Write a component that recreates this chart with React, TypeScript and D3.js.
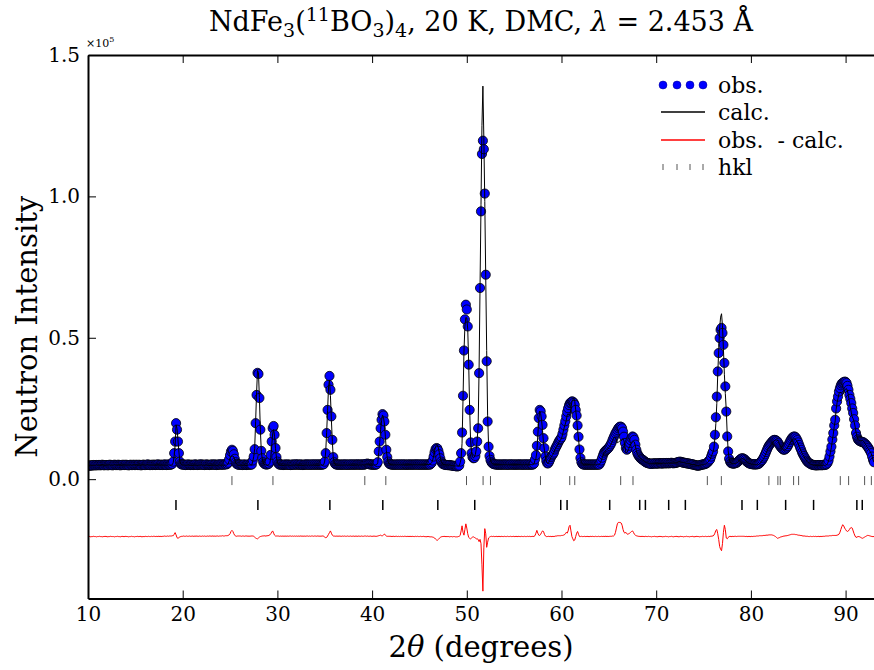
import { useEffect, useRef } from "react";
import * as d3 from "d3";

// DMC scan: 2theta grid starts at 10 deg, 0.1 deg per step
const firstAngle = 10.0;
const angleStep = 0.1;

// observed counts (x100), one row per degree
const obs = [
  47, 48, 48, 49, 48, 49, 50, 49, 49, 50, // 10
  49, 50, 50, 49, 50, 51, 50, 49, 50, 50,
  50, 49, 50, 51, 50, 50, 49, 50, 51, 50,
  50, 50, 51, 50, 49, 50, 50, 51, 50, 50,
  51, 50, 50, 49, 50, 51, 50, 50, 51, 50,
  50, 51, 50, 50, 51, 50, 49, 50, 51, 51, // 15
  50, 50, 51, 52, 51, 50, 50, 51, 50, 51,
  51, 50, 51, 51, 52, 51, 50, 51, 51, 50,
  51, 52, 51, 50, 51, 52, 51, 51, 52, 54,
  62, 92, 133, 198, 175, 133, 92, 62, 54, 52,
  51, 52, 51, 50, 51, 51, 52, 51, 50, 51, // 20
  51, 50, 51, 52, 51, 51, 50, 51, 52, 51,
  52, 51, 51, 50, 51, 52, 51, 51, 50, 51,
  51, 52, 51, 51, 52, 51, 50, 51, 52, 52,
  51, 52, 52, 51, 52, 53, 52, 54, 58, 70,
  85, 98, 104, 100, 88, 72, 60, 54, 52, 51, // 25
  51, 52, 51, 50, 51, 52, 51, 50, 51, 52,
  51, 52, 51, 52, 66, 80, 106, 198, 298, 376,
  372, 287, 175, 100, 74, 60, 55, 53, 52, 52,
  53, 55, 62, 86, 133, 180, 188, 157, 110, 78,
  62, 55, 52, 51, 52, 51, 50, 51, 52, 51, // 30
  51, 52, 51, 51, 50, 51, 52, 51, 51, 52,
  52, 51, 52, 51, 51, 52, 51, 50, 51, 52,
  51, 52, 51, 52, 51, 51, 52, 51, 52, 51,
  52, 51, 52, 51, 52, 51, 52, 51, 52, 53,
  62, 92, 163, 245, 334, 365, 316, 222, 139, 78, // 35
  60, 54, 52, 51, 52, 51, 52, 51, 51, 52,
  51, 52, 51, 52, 51, 51, 52, 51, 52, 51,
  52, 51, 52, 51, 52, 52, 51, 52, 51, 52,
  52, 51, 52, 53, 54, 55, 54, 53, 52, 52,
  51, 52, 51, 52, 51, 53, 60, 98, 133, 180, // 40
  210, 230, 225, 204, 157, 104, 78, 62, 55, 53,
  52, 51, 52, 51, 51, 52, 51, 52, 51, 52,
  51, 52, 51, 52, 51, 52, 51, 51, 52, 51,
  52, 51, 52, 51, 52, 51, 52, 52, 51, 52,
  51, 52, 51, 52, 51, 52, 51, 52, 51, 52, // 45
  52, 51, 54, 58, 66, 80, 95, 106, 110, 108,
  100, 88, 74, 62, 56, 53, 52, 51, 50, 50,
  50, 49, 50, 49, 48, 48, 47, 47, 46, 46,
  45, 46, 48, 62, 92, 165, 295, 455, 565, 617,
  600, 540, 405, 245, 130, 92, 78, 74, 75, 82, // 50
  98, 133, 180, 375, 676, 947, 1150, 1197, 1167, 1010,
  723, 417, 204, 115, 82, 68, 60, 56, 54, 53,
  52, 52, 51, 52, 51, 52, 51, 52, 51, 52,
  52, 51, 52, 51, 52, 51, 52, 52, 51, 52,
  51, 52, 51, 52, 51, 52, 52, 51, 52, 51, // 55
  52, 51, 52, 52, 51, 52, 51, 52, 52, 51,
  52, 55, 70, 85, 118, 168, 216, 245, 240, 222,
  192, 145, 110, 80, 64, 56, 56, 62, 70, 78,
  84, 88, 94, 105, 112, 118, 125, 132, 138, 142,
  148, 160, 175, 190, 205, 222, 238, 251, 262, 269, // 60
  271, 275, 274, 270, 263, 245, 225, 190, 150, 105,
  75, 60, 54, 52, 51, 52, 51, 52, 51, 52,
  51, 52, 51, 52, 51, 52, 51, 52, 52, 51,
  52, 58, 66, 76, 86, 94, 99, 102, 105, 108,
  112, 117, 123, 130, 139, 147, 154, 162, 168, 174, // 65
  180, 184, 186, 185, 180, 168, 150, 128, 110, 104,
  108, 118, 128, 138, 146, 151, 148, 139, 122, 104,
  92, 85, 80, 76, 72, 70, 68, 65, 62, 60,
  58, 57, 56, 55, 55, 54, 55, 56, 55, 56,
  55, 56, 55, 56, 57, 56, 55, 56, 57, 56, // 70
  56, 57, 56, 57, 56, 57, 58, 57, 56, 57,
  57, 58, 59, 60, 61, 62, 61, 60, 59, 58,
  58, 57, 56, 56, 55, 55, 54, 53, 52, 52,
  51, 50, 49, 48, 48, 48, 49, 50, 51, 52,
  52, 53, 54, 56, 58, 62, 66, 70, 80, 90, // 75
  98, 115, 157, 219, 292, 381, 446, 499, 528, 535,
  517, 475, 411, 328, 239, 151, 98, 72, 62, 57,
  56, 55, 55, 56, 57, 58, 61, 64, 68, 71,
  73, 74, 73, 71, 68, 64, 61, 58, 56, 55,
  54, 53, 53, 52, 52, 53, 52, 53, 54, 56, // 80
  60, 64, 68, 74, 80, 88, 96, 104, 112, 118,
  123, 127, 131, 135, 138, 139, 138, 136, 133, 128,
  122, 116, 112, 108, 105, 104, 105, 108, 112, 117,
  124, 131, 138, 143, 148, 150, 151, 149, 144, 138,
  130, 121, 112, 104, 95, 88, 82, 76, 70, 65, // 85
  61, 58, 56, 54, 52, 51, 50, 50, 49, 49,
  49, 50, 49, 50, 50, 49, 50, 51, 50, 51,
  53, 58, 66, 80, 98, 115, 140, 163, 190, 210,
  250, 275, 292, 310, 322, 332, 338, 341, 343, 345,
  344, 340, 330, 316, 298, 284, 269, 250, 234, 212, // 90
  190, 163, 150, 141, 137, 135, 133, 132, 131, 130,
  127, 124, 120, 116, 111, 105, 99, 92, 80, 68,
  60,
];

// obs - calc (x100)
const resid = [
  0, 1, 0, -1, 0, 0, 1, 0, 0, -1, // 10
  0, 0, 1, 0, 0, -1, 0, 0, 1, 0,
  0, -1, 0, 0, 1, 0, 0, 0, -1, 0,
  0, 1, 0, 0, -1, 0, 1, 0, 0, 0,
  1, 0, 0, -1, 0, 0, 1, 0, 0, -1,
  0, 0, 1, 0, 0, 1, 0, -1, 0, 0, // 15
  0, 1, 0, 0, 1, 0, 0, 1, 0, 1,
  1, 0, 1, 0, 1, 1, 0, 1, 0, 1,
  1, 2, 1, 1, 2, 1, 2, 2, 2, 3,
  3, 8, 14, 6, -4, -6, -4, -1, 0, 1,
  1, 2, 1, 1, 2, 1, 1, 2, 1, 1, // 20
  2, 1, 1, 2, 1, 2, 1, 1, 2, 1,
  1, 2, 1, 2, 1, 1, 2, 1, 2, 2,
  1, 2, 2, 1, 2, 1, 2, 2, 1, 2,
  2, 2, 3, 2, 2, 3, 3, 3, 4, 6,
  10, 18, 22, 18, 10, 4, 2, 1, 2, 2, // 25
  2, 2, 1, 2, 2, 1, 2, 2, 2, 1,
  2, 1, 2, 2, 2, 1, -2, -5, -7, -8,
  -5, -2, 0, 1, 2, 2, 3, 2, 2, 3,
  3, 4, 6, 10, 16, 20, 12, 5, 2, 2,
  2, 2, 1, 2, 1, 2, 1, 2, 1, 2, // 30
  1, 2, 1, 2, 2, 1, 2, 1, 2, 1,
  2, 1, 2, 1, 2, 2, 1, 2, 1, 2,
  1, 2, 2, 1, 2, 1, 2, 2, 1, 2,
  2, 1, 2, 2, 1, 2, 1, 2, 2, 1,
  -2, -4, -3, 2, 8, 14, 20, 12, 5, 2, // 35
  2, 1, 2, 1, 2, 1, 2, 1, 1, 2,
  1, 2, 1, 1, 2, 1, 1, 2, 1, 1,
  2, 1, 1, 2, 1, 1, 2, 1, 1, 2,
  1, 1, 2, 2, 1, 2, 1, 1, 2, 1,
  1, 1, 2, 1, 1, 1, 2, 3, 4, 5, // 40
  3, 3, 6, 9, 5, 2, 1, 1, 1, 1,
  1, 0, 1, 1, 0, 1, 1, 0, 1, 0,
  1, 0, 1, 0, 1, 1, 0, 1, 0, 1,
  0, 1, 0, 1, 0, 0, 1, 0, 1, 0,
  0, 1, 0, 0, 1, 0, 0, -1, 0, 0, // 45
  0, -1, -1, -1, -2, -3, -5, -9, -12, -13,
  -10, -6, -3, -1, 0, 0, 1, 0, 0, 0,
  0, 0, -1, 0, 0, -1, 0, 0, -1, -1,
  -1, 0, 1, 4, 20, 38, 15, 5, 25, 45,
  30, 10, -3, -6, -8, -5, -2, -1, -3, -5, // 50
  -8, -8, -10, -18, -10, -25, -100, -193, -40, 28,
  10, -38, -20, -5, -2, 0, 1, 0, 1, 0,
  0, 1, 0, 0, 1, 0, 0, 1, 0, 0,
  1, 0, 0, 1, 0, 0, 1, 0, 0, 1,
  0, 0, 1, 0, 0, 1, 0, 0, 1, 0, // 55
  0, 1, 0, 0, 1, 0, 1, 0, 0, 1,
  0, 1, 3, 12, 22, 12, 5, 4, 8, 15,
  20, 18, 8, 2, 0, 0, 1, 0, 1, 0,
  0, 1, 0, 1, 2, 2, 3, 3, 3, 3,
  4, 4, 5, 6, 10, 15, 12, 20, 35, 40, // 60
  20, 0, -8, -15, -12, 0, 12, 18, 8, 0,
  0, 1, 0, 0, 1, 0, 0, 1, 0, 0,
  0, 1, 0, 1, 0, 0, 1, 0, 0, 1,
  0, 0, 1, 0, 1, 0, 1, 1, 0, 1,
  0, 1, 1, 1, 2, 2, 5, 15, 30, 45, // 65
  50, 50, 50, 48, 40, 25, 15, 12, 15, 10,
  8, 10, 12, 15, 18, 20, 15, 8, 5, 3,
  2, 1, 1, 0, 1, 0, 1, 0, 0, 1,
  0, 0, 1, 0, 0, -1, 0, 0, 1, 0,
  0, -1, 0, 0, 1, 0, 0, -1, 0, 0, // 70
  1, 0, 0, -1, 0, 0, 1, 0, -1, 0,
  0, 1, 0, 0, -1, 0, 1, 0, 0, -1,
  0, 0, 1, 0, 0, -1, 0, 0, 1, 0,
  -1, 0, 0, 1, 0, 0, -1, 0, 0, 1,
  0, 0, 1, 0, 0, 1, 0, 1, 1, 2, // 75
  2, 5, 12, 22, 25, 10, -10, -35, -45, -50,
  -25, 15, 40, 25, -5, -8, -3, 0, 1, 0,
  0, 1, 0, 1, 1, 0, 1, 1, 1, 1,
  1, 1, 1, 1, 0, 1, 0, 0, 1, 0,
  0, 1, 0, 1, 1, 1, 2, 2, 2, 3, // 80
  3, 3, 3, 4, 4, 4, 5, 5, 5, 6,
  6, 6, 6, 5, 4, 2, 0, -3, -6, -5,
  -4, -2, -1, 0, 1, 2, 2, 3, 3, 4,
  5, 6, 7, 8, 8, 8, 8, 7, 7, 6,
  5, 5, 4, 4, 3, 2, 2, 2, 1, 1, // 85
  1, 0, 0, 1, 0, 0, 1, 0, 1, 0,
  0, 1, 0, 0, 1, 0, 1, 1, 1, 2,
  2, 2, 2, 3, 3, 3, 4, 4, 4, 4,
  4, 5, 6, 8, 15, 25, 35, 42, 38, 30,
  25, 20, 18, 20, 25, 30, 32, 30, 20, 10, // 90
  2, -3, -2, 0, 0, -1, -3, -5, -6, -4,
  -2, 0, 2, 4, 4, 3, 2, 1, 0, 0,
  0,
];

// reflection positions (2theta)
const nuclearHkl = [
  25.2, 29.53, 39.23, 41.45, 49.97, 51.72, 52.5, 57.78, 60.87, 61.4, 66.25,
  67.55, 75.4, 76.88, 81.9, 82.85, 83.1, 84.51, 85.04, 89.44, 90.32, 92.01,
  92.72,
];
const magneticHkl = [
  19.29, 27.94, 35.54, 41.13, 46.94, 50.84, 59.92, 60.59, 65.09, 68.26, 68.86,
  71.32, 73.08, 79.06, 80.68, 83.67, 86.62, 91.19, 91.76,
];

const xTicks = [10, 20, 30, 40, 50, 60, 70, 80, 90];
const yTicks = [0, 50000, 100000, 150000];

const nuclearRow = -500;
const magneticRow = -9100;
const diffOffset = -20300;

const legendLabels = ["obs.", "calc.", "obs.  - calc.", "hkl"];

export default function App() {
  const svgRef = useRef<SVGSVGElement | null>(null);

  useEffect(() => {
    document.body.style.margin = "0";
    const width = 874;
    const height = 670;
    const margin = { top: 55, right: 0, bottom: 71.5, left: 88 };
    const font = '"DejaVu Serif", "Liberation Serif", "Times New Roman", serif';

    const n = Math.min(obs.length, resid.length);
    const data = d3.range(n).map((i) => ({
      tth: firstAngle + i * angleStep,
      obs: obs[i] * 100,
      calc: (obs[i] - resid[i]) * 100,
      diff: resid[i] * 100 + diffOffset,
    }));

    const x = d3
      .scaleLinear()
      .domain([10, 93])
      .range([margin.left, width - margin.right]);
    const y = d3
      .scaleLinear()
      .domain([-42200, 150000])
      .range([height - margin.bottom, margin.top]);

    const svg = d3.select(svgRef.current);
    svg.selectAll("*").remove();
    svg.attr("width", width).attr("height", height).style("font-family", font);

    svg
      .append("defs")
      .append("clipPath")
      .attr("id", "plot-clip")
      .append("rect")
      .attr("x", margin.left)
      .attr("y", margin.top)
      .attr("width", width - margin.left - margin.right)
      .attr("height", height - margin.top - margin.bottom);

    const plot = svg.append("g").attr("clip-path", "url(#plot-clip)");

    // observed points
    plot
      .append("g")
      .selectAll("circle")
      .data(data)
      .join("circle")
      .attr("cx", (d) => x(d.tth))
      .attr("cy", (d) => y(d.obs))
      .attr("r", 4.6)
      .attr("fill", "#0000ff")
      .attr("stroke", "#000")
      .attr("stroke-width", 0.8);

    // calculated profile
    const calcLine = d3
      .line<(typeof data)[number]>()
      .x((d) => x(d.tth))
      .y((d) => y(d.calc));
    plot
      .append("path")
      .datum(data)
      .attr("d", calcLine)
      .attr("fill", "none")
      .attr("stroke", "#000")
      .attr("stroke-width", 1);

    // difference curve
    const diffLine = d3
      .line<(typeof data)[number]>()
      .x((d) => x(d.tth))
      .y((d) => y(d.diff));
    plot
      .append("path")
      .datum(data)
      .attr("d", diffLine)
      .attr("fill", "none")
      .attr("stroke", "#ff0000")
      .attr("stroke-width", 1);

    // reflection markers
    plot
      .append("g")
      .selectAll("line")
      .data(nuclearHkl)
      .join("line")
      .attr("x1", (d) => x(d))
      .attr("x2", (d) => x(d))
      .attr("y1", y(nuclearRow) - 4.5)
      .attr("y2", y(nuclearRow) + 4.5)
      .attr("stroke", "#555")
      .attr("stroke-width", 1);
    plot
      .append("g")
      .selectAll("line")
      .data(magneticHkl)
      .join("line")
      .attr("x1", (d) => x(d))
      .attr("x2", (d) => x(d))
      .attr("y1", y(magneticRow) - 5)
      .attr("y2", y(magneticRow) + 5)
      .attr("stroke", "#000")
      .attr("stroke-width", 1.5);

    // axes, ticks pointing inwards
    svg
      .append("g")
      .attr("transform", `translate(0,${height - margin.bottom})`)
      .call(
        d3
          .axisBottom(x)
          .tickValues(xTicks)
          .tickSize(-8)
          .tickSizeOuter(0)
          .tickPadding(8)
          .tickFormat(d3.format("d"))
      );
    svg
      .append("g")
      .attr("transform", `translate(0,${margin.top})`)
      .call(
        d3
          .axisTop(x)
          .tickValues(xTicks)
          .tickSize(-8)
          .tickSizeOuter(0)
          .tickFormat(() => "")
      );
    svg
      .append("g")
      .attr("transform", `translate(${margin.left},0)`)
      .call(
        d3
          .axisLeft(y)
          .tickValues(yTicks)
          .tickSize(-8)
          .tickSizeOuter(0)
          .tickPadding(8)
          .tickFormat((d) => (+d / 1e5).toFixed(1))
      );

    svg.selectAll("g").attr("font-family", null);
    svg
      .selectAll(".tick text")
      .style("font-family", font)
      .attr("font-size", 20)
      .attr("fill", "#000");
    svg.selectAll(".tick line").attr("stroke", "#000").attr("stroke-width", 1);
    svg.selectAll("path.domain").attr("stroke", "#000").attr("stroke-width", 2);

    // offset text
    const offset = svg
      .append("text")
      .attr("x", margin.left - 2)
      .attr("y", 47)
      .style("font-family", font)
      .attr("font-size", 11);
    offset.append("tspan").text("×10");
    offset.append("tspan").attr("dy", -5).attr("font-size", 8).text("5");

    // title
    const title = svg
      .append("text")
      .attr("x", (margin.left + width - margin.right) / 2)
      .attr("y", 31)
      .attr("text-anchor", "middle")
      .style("font-family", font)
      .attr("font-size", 27)
      .style("white-space", "pre");
    const parts: [string, string][] = [
      ["NdFe", ""],
      ["3", "sub"],
      ["(", ""],
      ["11", "sup"],
      ["BO", ""],
      ["3", "sub"],
      [")", ""],
      ["4", "sub"],
      [", 20 K, DMC, ", ""],
      ["λ", "it"],
      [" = 2.453 Å", ""],
    ];
    let shift = 0;
    parts.forEach(([t, kind]) => {
      const target = kind === "sub" ? 6 : kind === "sup" ? -10 : 0;
      const ts = title.append("tspan").attr("dy", target - shift).text(t);
      shift = target;
      if (kind === "sub" || kind === "sup") ts.attr("font-size", 19);
      if (kind === "it") ts.attr("font-style", "italic");
    });

    // axis labels
    const xl = svg
      .append("text")
      .attr("x", (margin.left + width - margin.right) / 2)
      .attr("y", 657)
      .attr("text-anchor", "middle")
      .style("font-family", font)
      .attr("font-size", 29)
      .style("white-space", "pre");
    xl.append("tspan").text("2");
    xl.append("tspan").attr("font-style", "italic").text("θ");
    xl.append("tspan").text(" (degrees)");

    svg
      .append("text")
      .attr("transform", `translate(37,${(margin.top + height - margin.bottom) / 2}) rotate(-90)`)
      .attr("text-anchor", "middle")
      .style("font-family", font)
      .attr("font-size", 29)
      .text("Neutron Intensity");

    // legend
    const legend = svg.append("g");
    const rows = [85, 112, 140, 167];
    const keyX = [663, 677, 690, 703];
    legend
      .selectAll("circle")
      .data(keyX)
      .join("circle")
      .attr("cx", (d) => d)
      .attr("cy", rows[0])
      .attr("r", 4)
      .attr("fill", "#0000ff")
      .attr("stroke", "#00008b")
      .attr("stroke-width", 0.5);
    legend
      .append("line")
      .attr("x1", 661)
      .attr("x2", 705)
      .attr("y1", rows[1])
      .attr("y2", rows[1])
      .attr("stroke", "#000")
      .attr("stroke-width", 1.5);
    legend
      .append("line")
      .attr("x1", 661)
      .attr("x2", 705)
      .attr("y1", rows[2])
      .attr("y2", rows[2])
      .attr("stroke", "#ff0000")
      .attr("stroke-width", 1.5);
    legend
      .selectAll("line.hk")
      .data(keyX)
      .join("line")
      .attr("class", "hk")
      .attr("x1", (d) => d)
      .attr("x2", (d) => d)
      .attr("y1", rows[3] - 3)
      .attr("y2", rows[3] + 3)
      .attr("stroke", "#555")
      .attr("stroke-width", 1);
    legend
      .selectAll("text")
      .data(legendLabels)
      .join("text")
      .attr("x", 718)
      .attr("y", (d, i) => rows[i] + 8)
      .style("font-family", font)
      .attr("font-size", 22)
      .style("white-space", "pre")
      .text((d) => d);
  }, []);

  return <svg ref={svgRef} style={{ display: "block" }}></svg>;
}
